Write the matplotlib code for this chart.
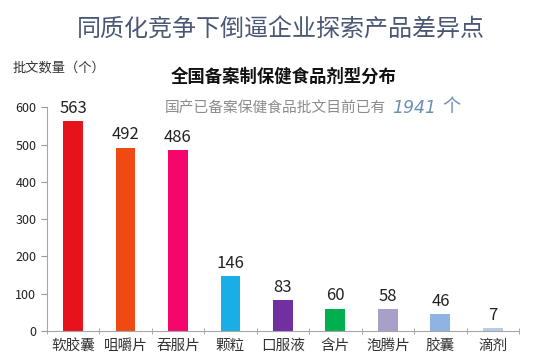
import matplotlib as mpl
mpl.use('Agg')
import numpy as np
import matplotlib.pyplot as plt

# data
categories = ['软胶囊', '咀嚼片', '吞服片', '颗粒', '口服液', '含片', '泡腾片', '胶囊', '滴剂']
counts = [563, 492, 486, 146, 83, 60, 58, 46, 7]
bar_colors = ['#E8121A', '#F04A14', '#F5066A', '#19AEE6', '#7030A0',
              '#00B04E', '#A8A0C8', '#8DB4E2', '#B8CCE4']
yticks = [0, 100, 200, 300, 400, 500, 600]
total = 1941

plt.rcParams['font.family'] = ['Noto Sans CJK SC', 'DejaVu Sans']

fig = plt.figure(figsize=(5.5, 3.64), dpi=100)
ax = fig.add_axes([0.085, 0.091, 0.859, 0.614])

x = np.arange(len(categories))
ax.bar(x, counts, width=0.38, color=bar_colors, zorder=2)
for xi, v in zip(x, counts):
    ax.annotate(str(v), (xi, v), xytext=(0, 3), textcoords='offset points',
                ha='center', va='bottom', fontsize=12, color='#222222')

ax.set_xlim(-0.5, len(categories) - 0.5)
ax.set_ylim(0, 600)
ax.set_yticks(yticks)
ax.set_xticks(x)
ax.set_xticklabels(categories, fontsize=10.5, color='#333333')
ax.set_xticks(np.arange(len(categories) + 1) - 0.5, minor=True)
ax.tick_params(axis='x', which='major', length=0, pad=6)
ax.tick_params(axis='x', which='minor', length=4, direction='inout', color='#999999')
ax.tick_params(axis='y', labelsize=9, length=4, color='#999999', labelcolor='#222222')
for s in ('top', 'right'):
    ax.spines[s].set_visible(False)
for s in ('left', 'bottom'):
    ax.spines[s].set_color('#A6A6A6')

fig.text(0.51, 0.918, '同质化竞争下倒逼企业探索产品差异点', ha='center', va='center',
         fontsize=17.3, color='#4B5875')
fig.text(0.022, 0.813, '批文数量（个）', ha='left', va='center', fontsize=9.5, color='#333333')
fig.text(0.515, 0.788, '全国备案制保健食品剂型分布', ha='center', va='center',
         fontsize=12.5, fontweight='bold', color='#111111')

# subtitle line: gray text followed by the italic total
t1 = fig.text(0.30, 0.703, '国产已备案保健食品批文目前已有', ha='left', va='center',
              fontsize=10.6, color='#8C8C8C')
t2 = fig.text(0, 0, str(total), ha='left', va='center', family='DejaVu Sans',
              fontsize=12.5, style='italic', color='#6E8FB5')
t2.set_position((1, 0.5))
t2.set_transform(mpl.transforms.offset_copy(
    mpl.transforms.BboxTransformTo(t1.get_window_extent(fig.canvas.get_renderer())),
    fig=fig, x=4, y=0, units='points'))
t3 = fig.text(0, 0, '个', ha='left', va='center', fontsize=13, color='#6E8FB5')
t3.set_position((1, 0.55))
t3.set_transform(mpl.transforms.offset_copy(
    mpl.transforms.BboxTransformTo(t2.get_window_extent(fig.canvas.get_renderer())),
    fig=fig, x=5, y=0, units='points'))

fig.savefig('out.png', dpi=100)
